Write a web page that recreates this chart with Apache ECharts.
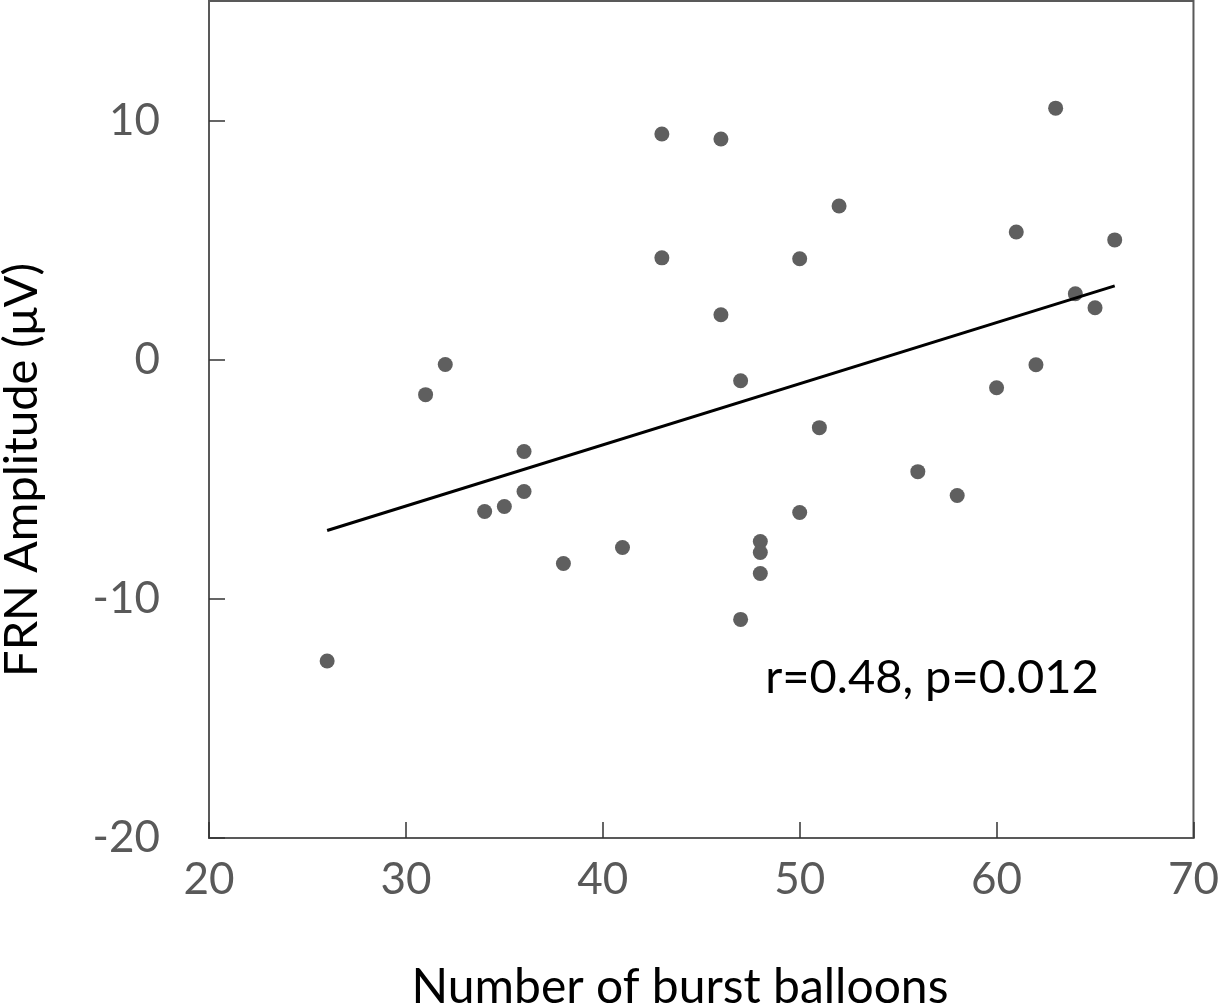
<!DOCTYPE html>
<html><head><meta charset="utf-8">
<script src="https://cdn.jsdelivr.net/npm/echarts@6/dist/echarts.min.js"></script>
<style>html,body{margin:0;padding:0;background:#fff}#c{width:1222px;height:1008px}</style>
</head><body><div id="c"></div>
<script>
const burstBalloons = [26,31,32,34,35,36,36,38,41,43,43,46,46,47,47,48,48,48,50,50,51,52,56,58,60,61,62,63,64,65,66];
const frnAmplitude = [-12.6,-1.46,-0.2,-6.35,-6.14,-3.84,-5.51,-8.52,-7.85,9.44,4.26,9.23,1.88,-0.88,-10.86,-7.6,-8.06,-8.94,4.22,-6.39,-2.84,6.43,-4.68,-5.68,-1.17,5.34,-0.21,10.52,2.76,2.17,5.01];
const fitX = [26, 66];
const fitY = [-7.14, 3.09];
const xTicks = [20,30,40,50,60,70];
const yTicks = [-20,-10,0,10];
const xTitle = 'Number of burst balloons';
const yTitle = 'FRN Amplitude (μV)';
const statText = 'r=0.48, p=0.012';

const FONT = 'Lato';
const chart = echarts.init(document.getElementById('c'));
const pts = burstBalloons.map((x,i)=>[x, frnAmplitude[i]]);
const fit = fitX.map((x,i)=>[x, fitY[i]]);
chart.setOption({
  animation:false,
  grid:{left:209,right:25,top:1,bottom:170,show:true,borderColor:'#595959',borderWidth:2},
  xAxis:{type:'value',min:20,max:70,interval:10,
    axisLine:{onZero:false,lineStyle:{color:'#595959',width:2}},
    axisTick:{inside:true,length:16,lineStyle:{color:'#333',width:1.5}},
    axisLabel:{color:'#595959',fontFamily:FONT,fontSize:44,margin:20,
      formatter:v=>xTicks.includes(v)?String(v):''},
    splitLine:{show:false}},
  yAxis:{type:'value',min:-20,max:15,interval:10,
    axisLine:{onZero:false,lineStyle:{color:'#595959',width:2}},
    axisTick:{inside:true,length:16,lineStyle:{color:'#333',width:1.5}},
    axisLabel:{color:'#595959',fontFamily:FONT,fontSize:44,margin:49,showMaxLabel:false,
      formatter:v=>yTicks.includes(v)?String(v):''},
    splitLine:{show:false}},
  series:[
    {type:'scatter',data:pts,symbolSize:15,itemStyle:{color:'#5f5f5f',opacity:1},z:2},
    {type:'line',data:fit,symbol:'none',lineStyle:{color:'#000',width:3},z:3}
  ],
  graphic:[
    {type:'text',x:680,y:988,style:{text:xTitle,fill:'#000',font:'48px '+FONT,align:'center',verticalAlign:'middle'}},
    {type:'text',x:22,y:470,rotation:Math.PI/2,style:{text:yTitle,fill:'#000',font:'47px '+FONT,align:'center',verticalAlign:'middle'}},
    {type:'text',x:932,y:678,style:{text:statText,fill:'#000',font:'47px '+FONT,align:'center',verticalAlign:'middle'}}
  ]
});
</script></body></html>
